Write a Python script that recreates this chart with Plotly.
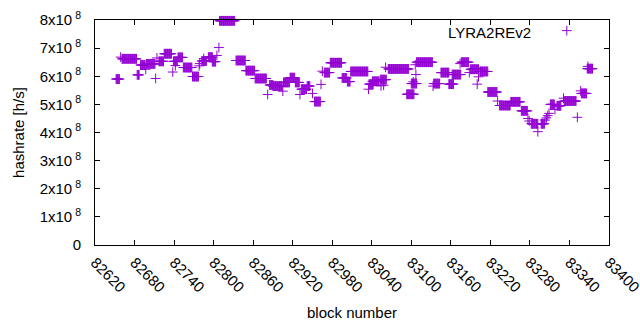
import plotly.graph_objects as go

# Runs of consecutive blocks sharing the same hashrate (value in units of 1e8 h/s)
run_start = [82652, 82659, 82661, 82684, 82689, 82697, 82698, 82712, 82714, 82717,
             82725, 82738, 82739, 82742, 82746, 82754, 82768, 82778, 82779, 82782,
             82785, 82792, 82798, 82805, 82808, 82809, 82834, 82849, 82863, 82882,
             82885, 82890, 82905, 82906, 82916, 82924, 82931, 82933, 82942, 82950,
             82953, 82963, 82965, 82968, 82977, 82995, 83003, 83008, 83035, 83036,
             83041, 83054, 83053, 83058, 83061, 83065, 83093, 83100, 83103, 83107,
             83106, 83108, 83133, 83134, 83145, 83157, 83162, 83174, 83176, 83188,
             83190, 83200, 83202, 83204, 83216, 83231, 83234, 83251, 83267, 83277,
             83279, 83282, 83292, 83297, 83303, 83305, 83307, 83309, 83311, 83318,
             83321, 83331, 83332, 83352, 83357, 83358, 83367, 83368]
run_end = [82657, 82659, 82683, 82687, 82696, 82697, 82711, 82712, 82714, 82724,
           82736, 82738, 82745, 82742, 82753, 82767, 82777, 82778, 82779, 82789,
           82785, 82798, 82803, 82805, 82808, 82832, 82848, 82862, 82880, 82882,
           82890, 82904, 82905, 82915, 82923, 82930, 82931, 82941, 82946, 82950,
           82962, 82963, 82965, 82976, 82994, 83002, 83007, 83034, 83035, 83042,
           83051, 83054, 83062, 83058, 83061, 83096, 83104, 83108, 83103, 83107,
           83106, 83132, 83133, 83143, 83157, 83164, 83175, 83174, 83187, 83188,
           83202, 83200, 83202, 83216, 83230, 83231, 83250, 83265, 83276, 83277,
           83279, 83292, 83292, 83302, 83303, 83305, 83307, 83309, 83317, 83318,
           83327, 83331, 83350, 83352, 83357, 83366, 83375, 83368]
run_value = [5.90, 6.68, 6.62, 6.05, 6.40, 6.25, 6.44, 5.92, 6.65, 6.53,
             6.80, 6.15, 6.53, 6.38, 6.67, 6.31, 5.99, 6.37, 6.45, 6.54,
             6.63, 6.68, 6.52, 6.74, 7.02, 7.97, 6.56, 6.20, 5.92, 5.35,
             5.69, 5.65, 5.47, 5.78, 5.95, 5.78, 5.35, 5.54, 5.65, 5.39,
             5.10, 5.71, 6.18, 6.13, 6.48, 5.94, 5.81, 6.17, 5.54, 5.72,
             5.82, 5.66, 5.88, 5.68, 6.32, 6.26, 5.36, 5.74, 5.80, 6.06,
             6.41, 6.50, 5.65, 5.74, 6.13, 5.72, 6.06, 6.45, 6.50, 6.13,
             6.25, 5.72, 5.98, 6.17, 5.44, 5.12, 4.96, 5.09, 4.77, 4.50,
             4.41, 4.31, 4.03, 4.31, 4.44, 4.52, 4.60, 4.68, 5.00, 4.82,
             4.95, 5.22, 5.12, 4.54, 5.48, 5.39, 6.27, 6.35]

x_ticks = [82620, 82680, 82740, 82800, 82860, 82920, 82980, 83040, 83100,
           83160, 83220, 83280, 83340, 83400]
y_ticks = [0, 1e8, 2e8, 3e8, 4e8, 5e8, 6e8, 7e8, 8e8]
y_ticktext = ["0"] + [f"{k}x10\u2009<sup>8</sup>" for k in range(1, 9)]

series_name = "LYRA2REv2"
color = "#9400D3"

blocks, rates = [], []
for s, e, v in zip(run_start, run_end, run_value):
    for b in range(s, e + 1):
        blocks.append(b)
        rates.append(v * 1e8)

fig = go.Figure()
fig.add_trace(go.Scatter(
    x=blocks, y=rates, mode="markers", name="", cliponaxis=False,
    marker=dict(symbol="cross-thin", size=7, color=color,
                line=dict(width=1, color=color)),
    showlegend=True,
))

font = dict(family="Liberation Sans, Arial, sans-serif", size=15, color="black")
axis_common = dict(showline=True, linecolor="black", linewidth=1, mirror="ticks",
                   ticks="inside", ticklen=5, tickcolor="black", showgrid=False,
                   zeroline=False, tickfont=font, automargin=False)

fig.update_layout(
    width=640, height=330,
    margin=dict(l=95, r=31, t=19.5, b=84.5),
    paper_bgcolor="white", plot_bgcolor="white",
    font=font,
    xaxis=dict(range=[82620, 83400], tickvals=x_ticks, ticktext=[str(t) for t in x_ticks],
               tickangle=45, ticklabelstandoff=2, ticklabeloverflow="allow",
               title=dict(text="block number", font=font, standoff=13), **axis_common),
    yaxis=dict(range=[0, 8e8], tickvals=y_ticks, ticktext=y_ticktext,
               ticklabelstandoff=10,
               title=dict(text="hashrate [h/s]", font=font, standoff=11), **axis_common),
    legend=dict(x=0.879, y=1.025, xanchor="left", yanchor="top",
                bgcolor="rgba(0,0,0,0)", font=font),
    annotations=[dict(text=series_name, xref="paper", yref="paper",
                      x=0.852, y=0.945, xanchor="right", yanchor="middle",
                      showarrow=False, font=font)],
)

fig.write_html("out.html", config={"displayModeBar": False},
               post_script="document.body.style.margin='0';")
